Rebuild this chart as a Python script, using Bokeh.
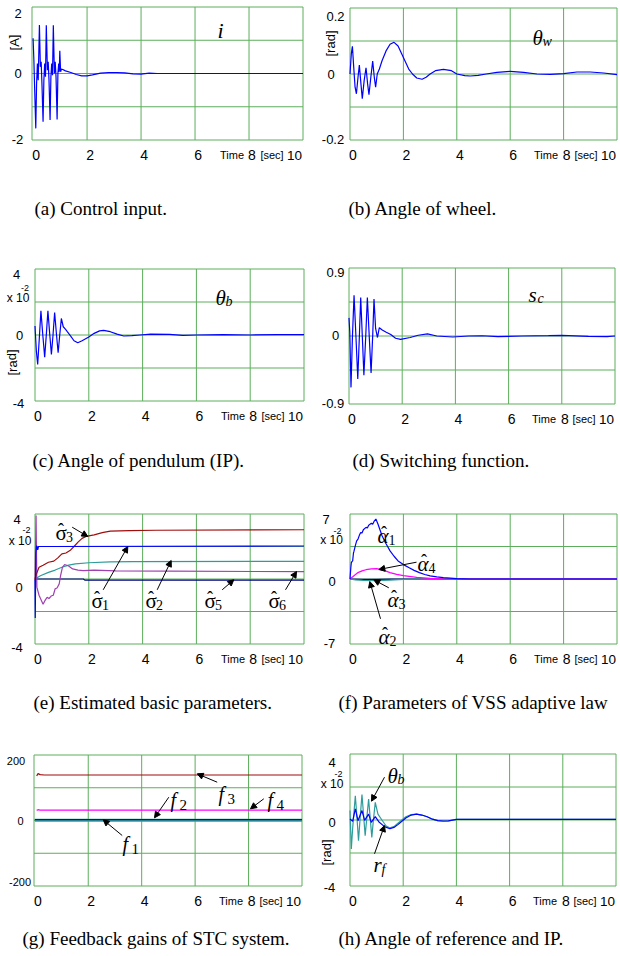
from bokeh.plotting import figure
from bokeh.models import Range1d, Label, Arrow, NormalHead
from bokeh.layouts import row, column
from bokeh.embed import file_html
from bokeh.resources import INLINE

# ---------------- data ----------------
x_tick_vals = [0, 2, 4, 6, 8]
x_grid_inner = [2, 4, 6, 8]

# (a) control input i [A]
t_i = [0, 0.03, 0.06, 0.10, 0.13, 0.16, 0.19, 0.235, 0.27, 0.30, 0.33, 0.37, 0.40, 0.43, 0.46, 0.49,
       0.53, 0.56, 0.59, 0.63, 0.66, 0.69, 0.72, 0.75, 0.79, 0.82, 0.85, 0.89, 0.92, 0.95, 0.97, 0.99,
       1.02, 1.05, 1.1, 1.2, 1.4, 1.6, 1.8, 2.0, 2.2, 2.5, 2.8, 3.1, 3.4, 3.7, 4.0, 4.3, 4.6, 10]
v_i = [1.06, 0.4, -0.5, -1.65, -0.3, 0.3, -0.2, 1.46, 0.2, 0.35, -0.35, -1.45, -0.2, 0.3, -0.1, 1.45,
       0.1, 0.35, -0.2, -1.4, -0.1, 0.3, -0.05, 1.45, 0.0, 0.35, -0.1, -1.38, 0.0, 0.3, 0.05, 0.68,
       0.05, 0.13, 0.12, 0.08, 0.03, -0.03, -0.07, -0.07, -0.04, 0.01, 0.03, 0.03, 0.02, -0.01, -0.02, 0.01, 0.0, 0.0]

# (b) angle of wheel [rad]
t_w = [0, 0.05, 0.09, 0.14, 0.19, 0.24, 0.30, 0.35, 0.41, 0.46, 0.53, 0.60, 0.66, 0.71, 0.78, 0.85,
       0.91, 0.96, 1.02, 1.1, 1.2, 1.35, 1.5, 1.65, 1.8, 2.0, 2.2, 2.34, 2.5, 2.7, 2.85, 3.0,
       3.2, 3.5, 3.8, 4.0, 4.3, 4.5, 4.8, 5.1, 5.5, 6.0, 6.5, 7.0, 7.5, 8.0, 8.5, 9.0, 9.5, 10]
v_w = [0, 0.062, 0.084, 0.02, -0.04, -0.06, -0.01, 0.027, -0.03, -0.075, -0.02, 0.019, -0.03, -0.063, -0.01, 0.039,
       -0.01, -0.04, 0.0, 0.015, 0.04, 0.07, 0.09, 0.096, 0.085, 0.05, 0.015, 0.0, -0.012, -0.016, -0.01, 0.0,
       0.01, 0.014, 0.01, 0.0, -0.005, -0.006, -0.004, 0.0, 0.005, 0.008, 0.005, 0.0, -0.001, 0.001, 0.006, 0.006, 0.003, -0.002]

# (c) angle of pendulum [x1e-2 rad]
t_b = [0, 0.05, 0.1, 0.16, 0.22, 0.29, 0.36, 0.42, 0.48, 0.55, 0.61, 0.67, 0.73, 0.80, 0.86, 0.92,
       0.98, 1.05, 1.13, 1.2, 1.32, 1.45, 1.59, 1.75, 2.0, 2.2, 2.4, 2.55, 2.8, 3.05, 3.3, 3.6,
       3.9, 4.3, 5.0, 5.5, 6.0, 7.0, 8.0, 9.0, 10]
v_b = [0.55, -0.97, -1.79, -0.2, 1.46, 0.0, -1.34, 0.0, 1.46, 0.0, -1.18, 0.0, 1.36, 0.0, -1.08, 0.0,
       1.0, 0.5, 0.35, 0.2, -0.05, -0.35, -0.47, -0.35, -0.12, 0.1, 0.25, 0.28, 0.2, 0.05, -0.06, -0.04,
       0.0, 0.05, 0.04, -0.02, 0.0, 0.02, 0.0, 0.02, 0.02]

# (d) switching function
t_s = [0, 0.03, 0.075, 0.13, 0.19, 0.26, 0.33, 0.39, 0.44, 0.50, 0.56, 0.63, 0.69, 0.76, 0.83, 0.89,
       0.94, 1.0, 1.07, 1.14, 1.25, 1.4, 1.57, 1.75, 1.94, 2.3, 2.6, 2.95, 3.3, 3.9, 4.5, 5.0,
       5.6, 6.5, 7.5, 8.0, 9.0, 9.7, 10]
v_s = [0.24, 0.05, -0.68, 0.0, 0.54, 0.0, -0.57, 0.0, 0.51, 0.0, -0.52, 0.0, 0.51, 0.0, -0.49, 0.0,
       0.49, 0.1, -0.02, 0.11, 0.08, 0.05, 0.02, -0.03, -0.045, -0.02, 0.01, 0.027, 0.0, -0.013, 0.0, 0.003,
       -0.008, 0.0, 0.004, 0.008, -0.005, -0.008, 0.0]

# (e) estimated basic parameters [x1e-2]
t_e1 = [0, 0.01, 0.03, 0.06, 0.1, 0.13, 0.5, 10]
v_e1 = [0, -2.4, 1.6, 2.05, 1.8, 2.0, 2.0, 2.03]
t_e3 = [0, 0.05, 0.15, 0.3, 0.5, 0.7, 0.85, 1.0, 1.15, 1.3, 1.45, 1.6, 1.75, 1.9, 2.2, 2.5, 2.8, 3.5, 4.5, 10]
v_e3 = [0, 0.3, 0.72, 0.85, 1.03, 1.1, 1.3, 1.55, 1.6, 1.75, 2.0, 2.27, 2.5, 2.62, 2.72, 2.85, 2.95, 2.98, 3.0, 3.03]
t_e2 = [0, 0.2, 0.5, 0.75, 1.0, 1.25, 1.5, 2.0, 2.8, 3.6, 10]
v_e2 = [0, 0.2, 0.41, 0.55, 0.72, 0.85, 0.93, 1.0, 1.05, 1.07, 1.09]
t_e6 = [0, 0.04, 0.07, 0.15, 0.3, 0.38, 0.45, 0.52, 0.6, 0.68, 0.75, 0.82, 0.9, 0.95, 1.02, 1.1,
        1.25, 1.4, 1.6, 1.8, 2.2, 3.0, 5.0, 10]
v_e6 = [0, 3.9, -0.5, -1.0, -1.55, -1.3, -1.13, -1.2, -1.05, -1.0, -0.6, -0.55, -0.3, 0.2, 0.72, 0.89,
        0.8, 0.62, 0.55, 0.52, 0.55, 0.5, 0.48, 0.45]
t_e5 = [0, 1.8, 1.85, 10]
v_e5 = [0, 0, -0.07, -0.07]

# (f) parameters of VSS adaptive law [x1e-2]
t_a1 = [0, 0.03, 0.05, 0.08, 0.1, 0.13, 0.15, 0.2, 0.25, 0.3, 0.35, 0.4, 0.45, 0.5, 0.6, 0.65,
        0.7, 0.8, 0.85, 0.9, 0.97, 1.05, 1.2, 1.35, 1.5, 1.65, 1.8, 2.0, 2.2, 2.4, 2.6, 2.8,
        3.0, 3.25, 3.5, 4.0, 4.5, 10]
v_a1 = [0, 1.2, 1.77, 1.9, 1.95, 2.8, 3.0, 3.6, 4.1, 4.3, 4.7, 5.0, 4.95, 5.3, 5.56, 5.5,
        5.8, 6.0, 5.9, 6.2, 6.46, 5.9, 4.66, 3.8, 3.03, 2.45, 1.95, 1.55, 1.23, 0.93, 0.69, 0.48,
        0.33, 0.22, 0.14, 0.04, 0.0, 0.0]
t_a4 = [0, 0.15, 0.3, 0.45, 0.6, 0.8, 1.0, 1.25, 1.5, 1.75, 2.0, 2.5, 3.0, 3.5, 4.0, 10]
v_a4 = [0, 0.35, 0.69, 0.88, 1.0, 1.1, 1.12, 0.95, 0.69, 0.5, 0.36, 0.18, 0.07, 0.02, 0.0, 0.0]
t_a3 = [0, 0.2, 0.5, 1.0, 1.5, 2.0, 2.5, 10]
v_a3 = [0, -0.1, -0.15, -0.18, -0.12, -0.05, 0.0, 0.0]
t_a2 = [0, 0.5, 1.0, 1.5, 2.0, 10]
v_a2 = [0, -0.05, -0.05, -0.02, 0.0, 0.0]

# (g) feedback gains
t_g = [0.07, 0.12, 0.2, 0.35, 10]
v_f3 = [136, 143, 140, 139, 139]
v_f4 = [31, 33, 31.8, 31.6, 31.6]
t_g0 = [0, 10]
v_f2 = [2.5, 2.5]
v_f1 = [0.5, 0.5]

# (h) angle of reference and IP [x1e-2 rad]
t_hb = [0, 0.05, 0.1, 0.2, 0.26, 0.32, 0.38, 0.45, 0.51, 0.57, 0.63, 0.7, 0.76, 0.82, 0.88, 0.95,
        1.05, 1.2, 1.35, 1.5, 1.65, 1.8, 2.1, 2.3, 2.5, 2.7, 2.9, 3.1, 3.3, 3.5, 3.7, 4.0, 5.0, 10]
v_hb = [0.57, -1.76, -0.5, 1.47, 0.2, -1.25, 0.1, 1.54, 0.3, -0.95, 0.1, 1.27, 0.1, -1.05, 0.0, 1.07,
        0.36, 0.0, -0.35, -0.48, -0.4, -0.2, 0.2, 0.33, 0.36, 0.3, 0.2, 0.05, -0.04, -0.07, -0.06, 0.04, 0.04, 0.04]
t_rf = [0, 0.1, 0.2, 0.3, 0.45, 0.55, 0.7, 0.8, 0.95, 1.1, 1.3, 1.5, 1.65, 1.8, 2.1, 2.3,
        2.5, 2.7, 2.9, 3.1, 3.3, 3.5, 3.7, 4.0, 5.0, 10]
v_rf = [0.06, -0.08, 0.67, -0.04, 0.57, -0.02, 0.36, -0.14, 0.2, -0.14, -0.4, -0.53, -0.45, -0.28, 0.12, 0.3,
        0.36, 0.3, 0.2, 0.05, -0.04, -0.06, -0.05, 0.04, 0.04, 0.04]

# y tick levels (grid) and y tick label texts
ygrid_a = [-2, -1, 0, 1, 2]
ygrid_b = [-0.2, -0.1, 0, 0.1, 0.2]
ygrid_c = [-4, -2, 0, 2, 4]
ygrid_d = [-0.9, -0.45, 0, 0.45, 0.9]
ygrid_e = [-4, -2, 0, 2, 4]
ygrid_f = [-7, -3.5, 0, 3.5, 7]
ygrid_g = [-200, -100, 0, 100, 200]
ygrid_h = [-4, -2, 0, 2, 4]
ylab_a = ["2", "0", "-2"]
ylab_b = ["0.2", "0", "-0.2"]
ylab_c = ["4", "0", "-4"]
ylab_d = ["0.9", "0", "-0.9"]
ylab_e = ["4", "0", "-4"]
ylab_f = ["7", "0", "-7"]
ylab_g = ["200", "0", "-200"]
ylab_h = ["4", "0", "-4"]

captions = ["(a) Control input.", "(b) Angle of wheel.", "(c) Angle of pendulum (IP).",
            "(d) Switching function.", "(e) Estimated basic parameters.",
            "(f) Parameters of VSS adaptive law", "(g) Feedback gains of STC system.",
            "(h) Angle of reference and IP."]

# ---------------- styling ----------------
GREEN = "#5cae5c"
BLUE = "#0000ff"
TEAL = "#2f9c9c"
DRED = "#a00d0d"
MAG = "#ff00ff"
PURP = "#a040b0"
NAVY = "#000080"
SANS = "Liberation Sans"
SERIF = "Liberation Serif"
LW = 1.2


class Pan:
    """Plot box (page pixels) and its data ranges."""
    def __init__(self, fl, fr, ft, fb, x0, x1, y0, y1):
        self.fl, self.fr, self.ft, self.fb = fl, fr, ft, fb
        self.x0, self.x1, self.y0, self.y1 = x0, x1, y0, y1

    def X(self, px):
        return self.x0 + (px - self.fl) / (self.fr - self.fl) * (self.x1 - self.x0)

    def Y(self, py):
        return self.y1 - (py - self.ft) / (self.fb - self.ft) * (self.y1 - self.y0)

    def dx(self, px):
        return px / (self.fr - self.fl) * (self.x1 - self.x0)


def T(p, pan, X, Y, s, size, font=SANS, style="normal", align="center", base="middle", angle=0.0):
    p.add_layout(Label(x=pan.X(X), y=pan.Y(Y), text=s, text_font=font, text_font_size=f"{size}px",
                       text_font_style=style, text_align=align, text_baseline=base, angle=angle,
                       text_color="black"))


def A(p, pan, X1, Y1, X2, Y2):
    p.add_layout(Arrow(end=NormalHead(size=6, fill_color="black", line_color="black", line_width=1),
                       x_start=pan.X(X1), y_start=pan.Y(Y1), x_end=pan.X(X2), y_end=pan.Y(Y2),
                       line_color="black", line_width=1))


def make_panel(pan, cl, ct, W, H, ygrid, ylabs, ylab_pos, yfs=13):
    p = figure(width=W, height=H,
               x_range=Range1d(pan.X(cl), pan.X(cl + W)),
               y_range=Range1d(pan.Y(ct + H), pan.Y(ct)),
               x_axis_type=None, y_axis_type=None, output_backend="svg",
               toolbar_location=None, title=None, min_border=0)
    p.outline_line_color = None
    p.background_fill_color = "white"
    p.border_fill_color = "white"
    # grid + plot box
    vx = [pan.x0] + x_grid_inner + [pan.x1]
    p.segment(x0=vx, y0=[pan.y0] * len(vx), x1=vx, y1=[pan.y1] * len(vx),
              line_color=GREEN, line_width=1)
    p.segment(x0=[pan.x0] * len(ygrid), y0=ygrid, x1=[pan.x1] * len(ygrid), y1=ygrid,
              line_color=GREEN, line_width=1)
    # x tick labels (slightly right of the grid lines, as in the original)
    yb = pan.fb + 15
    for v in x_tick_vals:
        p.add_layout(Label(x=v + pan.dx(3), y=pan.Y(yb), text=str(v), text_font=SANS,
                           text_font_size="14px", text_align="center", text_baseline="middle",
                           text_color="black"))
    T(p, pan, pan.fr - 71, yb, "Time", 11)
    T(p, pan, pan.fr - 31, yb, "[sec]", 11)
    T(p, pan, pan.fr - 1, yb, "10", 13.5, align="right")
    # y tick labels
    for s, (X, Y) in zip(ylabs, ylab_pos):
        T(p, pan, X, Y, s, yfs)
    return p


def sub_text(p, pan, X, Yb, main, sub, size=21, ssize=14, style="italic", sstyle="italic",
             dx=10, dy=4, hat=False):
    T(p, pan, X, Yb, main, size, font=SERIF, style=style, align="left", base="alphabetic")
    T(p, pan, X + dx, Yb + dy, sub, ssize, font=SERIF, style=sstyle, align="left", base="alphabetic")
    if hat:
        T(p, pan, X + 5.5 + (1 if style == "italic" else 0), Yb - 3, "\u02c6", 18, font=SERIF,
          align="center", base="alphabetic")


def x10(p, pan, X, Y, X2, Y2):
    T(p, pan, X, Y, "x 10", 12)
    T(p, pan, X2, Y2, "-2", 9)


def caption(p, pan, X, Y, s):
    T(p, pan, X, Y, s, 19, font=SERIF, align="left", base="middle")


ROT = 1.5708

# ---------- (a) ----------
pa_ = Pan(31.5, 302.5, 6.5, 139.5, -0.04, 10, -2, 2)
pa = make_panel(pa_, 0, 0, 310, 240, ygrid_a, ylab_a, [(17.5, 13), (17.5, 73), (17, 138.5)])
pa.line(t_i, v_i, line_color=BLUE, line_width=LW)
T(pa, pa_, 220, 30, "i", 22, font=SERIF, style="italic")
T(pa, pa_, 13.5, 42, "[A]", 13, angle=ROT)
caption(pa, pa_, 34, 208, captions[0])

# ---------- (b) ----------
pb_ = Pan(349.5, 616.5, 7.5, 139.5, 0, 10, -0.2, 0.2)
pb = make_panel(pb_, 310, 0, 310, 240, ygrid_b, ylab_b, [(335, 16), (330.5, 74), (332.5, 139)])
pb.line(t_w, v_w, line_color=BLUE, line_width=LW)
sub_text(pb, pb_, 532, 37, "\u03b8", "w")
T(pb, pb_, 330, 43, "[rad]", 13, angle=ROT)
caption(pb, pb_, 348, 208, captions[1])

# ---------- (c) ----------
pc_ = Pan(34.5, 303.5, 268.5, 400.5, 0, 10, -4, 4)
pc = make_panel(pc_, 0, 240, 310, 250, ygrid_c, ylab_c, [(16, 274), (19, 335), (18, 403)])
pc.line(t_b, v_b, line_color=BLUE, line_width=LW)
sub_text(pc, pc_, 215, 297, "\u03b8", "b")
T(pc, pc_, 11.5, 362, "[rad]", 13, angle=ROT)
x10(pc, pc_, 17.5, 297, 24.5, 287.5)
caption(pc, pc_, 32, 460, captions[2])

# ---------- (d) ----------
pd_ = Pan(348.5, 614.5, 267.5, 403.5, 0, 10, -0.9, 0.9)
pd = make_panel(pd_, 310, 240, 310, 250, ygrid_d, ylab_d, [(335, 272), (335, 334.5), (332.5, 402.5)])
pd.line(t_s, v_s, line_color=BLUE, line_width=LW)
sub_text(pd, pd_, 528, 294, "s", "c", dx=9)
caption(pd, pd_, 352, 460, captions[3])

# ---------- (e) ----------
pe_ = Pan(34.5, 303.5, 513.5, 643.5, 0, 10, -4, 4)
pe = make_panel(pe_, 0, 490, 310, 240, ygrid_e, ylab_e, [(16.5, 519), (18.5, 587), (16.5, 647)])
pe.line(t_e5, v_e5, line_color=NAVY, line_width=LW)
pe.line(t_e2, v_e2, line_color=TEAL, line_width=LW)
pe.line(t_e6, v_e6, line_color=PURP, line_width=LW)
pe.line(t_e3, v_e3, line_color=DRED, line_width=LW)
pe.line(t_e1, v_e1, line_color=BLUE, line_width=LW)
x10(pe, pe_, 19.5, 540.5, 26, 529.5)
for (xs, ys, sub) in [(55, 532, "3"), (91, 600, "1"), (145, 600, "2"), (204, 600, "5"), (268, 600, "6")]:
    sub_text(pe, pe_, xs, ys, "\u03c3", sub, style="normal", sstyle="normal", dx=10.5, dy=4, hat=True)
A(pe, pe_, 71.7, 526.7, 87.3, 536)
A(pe, pe_, 102.7, 589.3, 127.3, 546)
A(pe, pe_, 156.7, 589.3, 170.7, 560)
A(pe, pe_, 221.7, 589.3, 233.3, 579.3)
A(pe, pe_, 285, 589.3, 296, 571)
caption(pe, pe_, 33, 702, captions[4])

# ---------- (f) ----------
pf_ = Pan(349.5, 616.5, 513.5, 643.5, 0, 10, -7, 7)
pf = make_panel(pf_, 310, 490, 310, 240, ygrid_f, ylab_f, [(325.5, 519), (331.5, 580.5), (329, 642.5)])
pf.line(t_a2, v_a2, line_color=NAVY, line_width=LW)
pf.line(t_a3, v_a3, line_color=TEAL, line_width=LW)
pf.line(t_a4, v_a4, line_color=MAG, line_width=LW)
pf.line(t_a1, v_a1, line_color=BLUE, line_width=LW)
x10(pf, pf_, 331, 539, 337, 530)
for (xs, ys, sub) in [(377, 535, "1"), (417, 563, "4"), (387, 599, "3"), (378, 636, "2")]:
    sub_text(pf, pf_, xs, ys, "\u03b1", sub, sstyle="normal", dx=11, dy=4, hat=True)
A(pf, pf_, 416, 561.7, 378.3, 569)
A(pf, pf_, 388.3, 587.3, 373.3, 579.3)
A(pf, pf_, 380, 618.3, 369.3, 581)
caption(pf, pf_, 338, 702, captions[5])

# ---------- (g) ----------
pg_ = Pan(33.5, 301.5, 754.5, 885.5, -0.03, 10, -200, 200)
pg = make_panel(pg_, 0, 730, 310, 226, ygrid_g, ylab_g, [(15.5, 760), (20, 820), (19.5, 881)], yfs=11)
pg.line(t_g0, v_f1, line_color=TEAL, line_width=3)
pg.line(t_g0, v_f2, line_color=NAVY, line_width=1)
pg.line(t_g, v_f4, line_color=MAG, line_width=LW)
pg.line(t_g, v_f3, line_color=DRED, line_width=LW)
for (xs, ys, sub) in [(218, 793, "3"), (170, 799, "2"), (267, 799, "4"), (122, 843, "1")]:
    sub_text(pg, pg_, xs, ys, "f", sub, size=20, ssize=15, sstyle="normal", dx=9, dy=5)
A(pg, pg_, 216.7, 781.7, 196.7, 773.3)
A(pg, pg_, 168.3, 796.7, 154, 817.3)
A(pg, pg_, 263.3, 798.3, 250, 808.3)
A(pg, pg_, 121.7, 835, 102.7, 819.3)
caption(pg, pg_, 22, 938, captions[6])

# ---------- (h) ----------
ph_ = Pan(349.5, 615.5, 753.5, 885.5, 0, 10, -4, 4)
ph = make_panel(ph_, 310, 730, 310, 226, ygrid_h, ylab_h, [(331.5, 762), (331.5, 822), (329, 887)])
ph.line(t_hb, v_hb, line_color=TEAL, line_width=LW)
ph.line(t_rf, v_rf, line_color=BLUE, line_width=LW)
sub_text(ph, ph_, 387, 775, "\u03b8", "b")
sub_text(ph, ph_, 373, 864, "r", "f", dx=8, dy=5)
A(ph, ph_, 384, 776.7, 371, 800.7)
A(ph, ph_, 374, 853.3, 384, 825)
T(ph, ph_, 326, 852, "[rad]", 13, angle=ROT)
x10(ph, ph_, 331.5, 783.5, 338, 773)
caption(ph, ph_, 338, 938, captions[7])

root = column(row(pa, pb), row(pc, pd), row(pe, pf), row(pg, ph))
open("out.html", "w").write(file_html(root, INLINE))
